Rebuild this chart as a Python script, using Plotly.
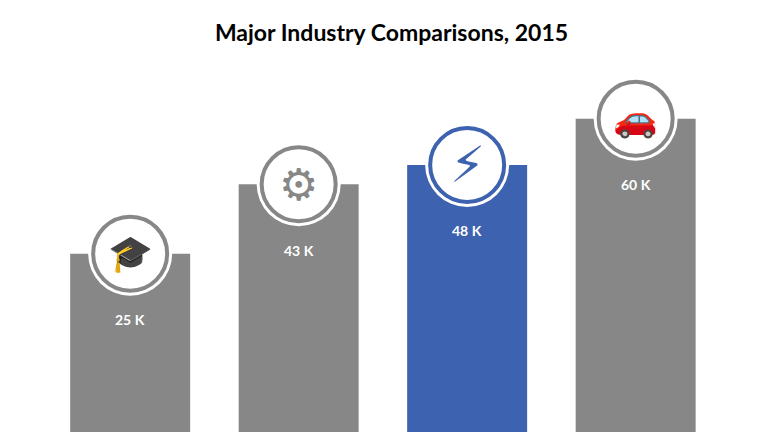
import plotly.graph_objects as go

categories = ["Education", "Manufacturing", "Energy", "Automotive"]
values = [25, 43, 48, 60]
labels = ["25 K", "43 K", "48 K", "60 K"]
icons = ["🎓", "⚙", "⚡", "🚗"]
colors = ["#878787", "#878787", "#3D62AF", "#878787"]

base = -35
fig = go.Figure(go.Bar(
    x=list(range(len(values))), y=[v - base for v in values], base=base,
    marker=dict(color=colors, line=dict(width=0)), width=0.712, hoverinfo="skip"))

sizes = {"🎓": 36, "⚙": 44, "⚡": 50, "🚗": 36}
shapes, ann = [], []
for i, (v, c) in enumerate(zip(values, colors)):
    for r, fill, lc, lw in [(42, "white", "white", 0), (37, "white", c, 4)]:
        shapes.append(dict(type="circle", xref="x", yref="y", xsizemode="pixel", ysizemode="pixel",
                           xanchor=i, yanchor=v, x0=-r, x1=r, y0=-r, y1=r,
                           fillcolor=fill, line=dict(color=lc, width=lw), layer="above"))
    ann.append(dict(x=i, y=v, text=icons[i], showarrow=False, yshift=0,
                    font=dict(size=sizes[icons[i]], color=c, family="DejaVu Sans")))
    ann.append(dict(x=i, y=v, text=f"<b>{labels[i]}</b>", showarrow=False, yshift=-66,
                    font=dict(size=14, color="white", family="Lato")))

fig.update_layout(
    width=767, height=432, margin=dict(l=0, r=0, t=0, b=0),
    paper_bgcolor="white", plot_bgcolor="white", showlegend=False,
    title=dict(text="<b>Major Industry Comparisons, 2015</b>", x=0.5, y=0.96, xanchor="center",
               font=dict(size=23, color="black", family="Lato")),
    xaxis=dict(range=[-0.725, 3.827], visible=False),
    yaxis=dict(range=[-23.3, 88.7], visible=False),
    shapes=shapes, annotations=ann)
fig.write_html("out.html")
